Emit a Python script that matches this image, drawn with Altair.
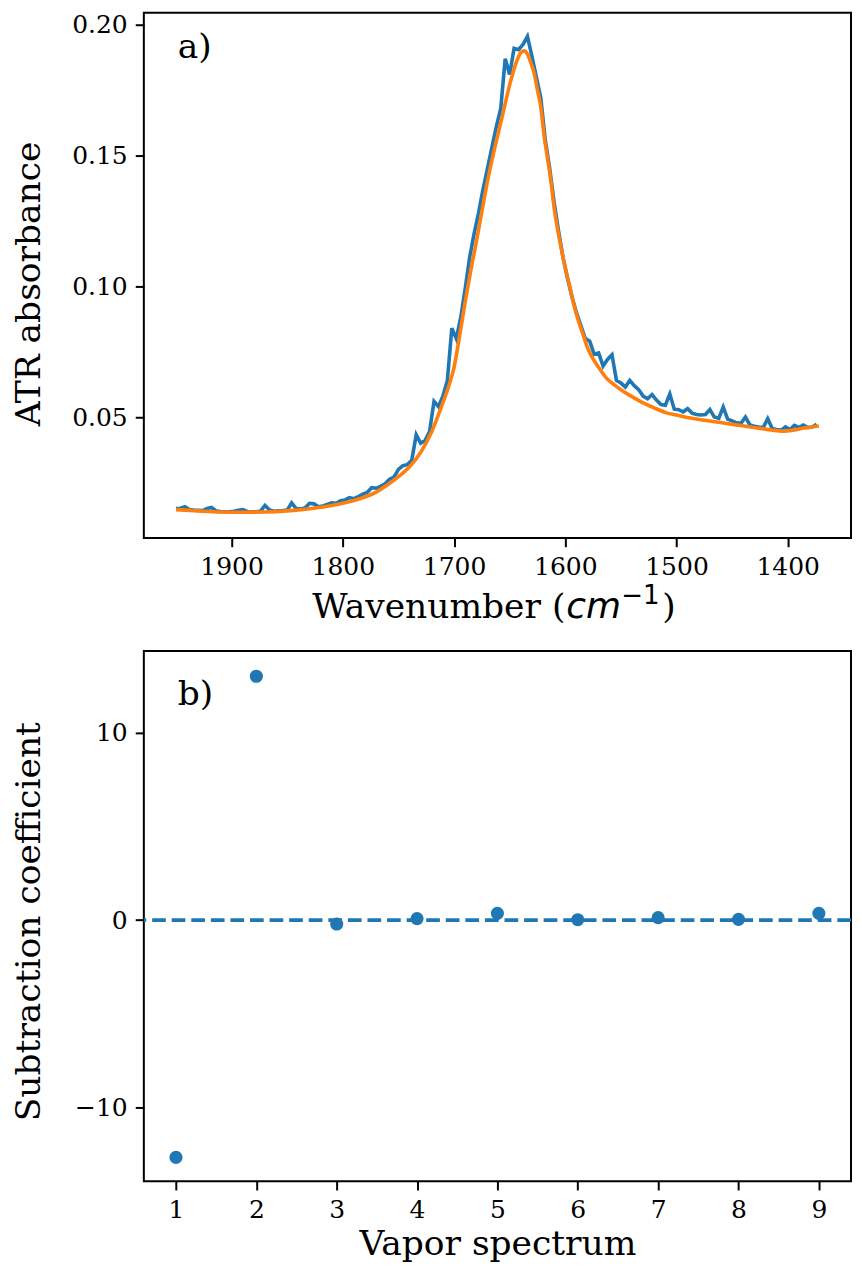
import altair as alt
import pandas as pd

# ---------------- data ----------------
# a) measured ATR spectrum (blue), sampled every 4 cm-1 from 1950 to 1374
wn_meas = list(range(1950, 1373, -4))
abs_meas = [
    0.0150, 0.0151, 0.0157, 0.0146, 0.0144, 0.0143, 0.0142, 0.0150, 0.0154, 0.0141,
    0.0139, 0.0138, 0.0138, 0.0140, 0.0143, 0.0146, 0.0139, 0.0138, 0.0138, 0.0140,
    0.0162, 0.0145, 0.0140, 0.0141, 0.0142, 0.0144, 0.0172, 0.0150, 0.0148, 0.0152,
    0.0170, 0.0168, 0.0157, 0.0160, 0.0166, 0.0172, 0.0170, 0.0180, 0.0183, 0.0192,
    0.0188, 0.0196, 0.0205, 0.0212, 0.0230, 0.0228, 0.0235, 0.0245, 0.0262, 0.0270,
    0.0300, 0.0314, 0.0318, 0.0335, 0.0432, 0.0400, 0.0410, 0.0445, 0.0560, 0.0540,
    0.0580, 0.0640, 0.0840, 0.0800, 0.0880, 0.0990, 0.1110, 0.1200, 0.1280, 0.1370,
    0.1450, 0.1530, 0.1610, 0.1680, 0.1870, 0.1810, 0.1910, 0.1905, 0.1925, 0.1955,
    0.1880, 0.1800, 0.1720, 0.1560, 0.1450, 0.1320, 0.1210, 0.1110, 0.1030, 0.0960,
    0.0900, 0.0850, 0.0800, 0.0790, 0.0740, 0.0745, 0.0695, 0.0720, 0.0738, 0.0640,
    0.0630, 0.0615, 0.0640, 0.0620, 0.0605, 0.0580, 0.0570, 0.0586, 0.0565, 0.0548,
    0.0545, 0.0588, 0.0530, 0.0528, 0.0520, 0.0532, 0.0515, 0.0510, 0.0508, 0.0510,
    0.0529, 0.0500, 0.0495, 0.0538, 0.0492, 0.0485, 0.0478, 0.0476, 0.0500, 0.0470,
    0.0465, 0.0462, 0.0460, 0.0494, 0.0456, 0.0452, 0.0450, 0.0462, 0.0452, 0.0468,
    0.0460, 0.0469, 0.0460, 0.0462, 0.0472,
]

# a) fitted spectrum (orange)
wn_fit = [1950, 1930, 1910, 1890, 1870, 1850, 1830, 1810, 1790, 1770, 1760, 1750,
          1740, 1730, 1720, 1710, 1705, 1700, 1695, 1690, 1685, 1680, 1675, 1670,
          1665, 1660, 1655, 1650, 1645, 1640, 1637, 1634, 1631, 1628, 1625, 1622,
          1619, 1616, 1613, 1610, 1605, 1601, 1596, 1592, 1588, 1584, 1580, 1575,
          1570, 1563, 1555, 1548, 1540, 1533, 1520, 1509, 1500, 1489, 1475, 1459,
          1445, 1429, 1415, 1405, 1395, 1385, 1372]
abs_fit = [0.0146, 0.0141, 0.0137, 0.0136, 0.0137, 0.0141, 0.0149, 0.0162, 0.0181,
           0.0213, 0.0240, 0.0272, 0.0310, 0.0365, 0.0445, 0.0555, 0.0615, 0.0690,
           0.0810, 0.0940, 0.1060, 0.1170, 0.1285, 0.1400, 0.1500, 0.1590, 0.1680,
           0.1770, 0.1845, 0.1893, 0.1900, 0.1888, 0.1855, 0.1815, 0.1750, 0.1685,
           0.1575, 0.1490, 0.1405, 0.1300, 0.1175, 0.1090, 0.1000, 0.0925, 0.0865,
           0.0815, 0.0765, 0.0722, 0.0690, 0.0649, 0.0620, 0.0599, 0.0578, 0.0561,
           0.0535, 0.0516, 0.0508, 0.0497, 0.0488, 0.0478, 0.0469, 0.0459, 0.0451,
           0.0446, 0.0450, 0.0458, 0.0466]

# b) subtraction coefficients
vapor_spectrum = [1, 2, 3, 4, 5, 6, 7, 8, 9]
sub_coef = [-12.68, 13.03, -0.21, 0.08, 0.36, 0.02, 0.13, 0.04, 0.36]

wn_ticks = [1900, 1800, 1700, 1600, 1500, 1400]
abs_ticks = [0.05, 0.10, 0.15, 0.20]
coef_ticks = [-10, 0, 10]

# ---------------- styling ----------------
FONT = "DejaVu Serif"
MATH_FONT = "DejaVu Sans"
BLUE = "#1f77b4"
ORANGE = "#ff7f0e"
W = 708
H_TOP = 526
H_BOT = 531
TITLE_SIZE = 34.5
TITLE_X = -104
XTITLE_BASE = H_TOP + 80   # baseline of the composed x title (relative to plot top)
CM_X = 422                 # left edge of the italic "cm" (relative to plot left)

meas_df = pd.DataFrame({"wn": wn_meas, "absorb": abs_meas})
fit_df = pd.DataFrame({"wn": wn_fit, "absorb": abs_fit})
coef_df = pd.DataFrame({"spec": vapor_spectrum, "coef": sub_coef})

x_top = alt.X(
    "wn:Q",
    scale=alt.Scale(domain=[1343.1, 1978.9], reverse=True, nice=False, zero=False),
    axis=alt.Axis(values=wn_ticks, format="d", title=None),
)
y_top = alt.Y(
    "absorb:Q",
    scale=alt.Scale(domain=[0.0037, 0.2046], nice=False, zero=False),
    axis=alt.Axis(values=abs_ticks, format=".2f", title="ATR absorbance",
                  titleX=TITLE_X, titleY=H_TOP / 2 + 8, titleBaseline="alphabetic"),
)

meas_line = alt.Chart(meas_df).mark_line(color=BLUE, strokeWidth=3.6).encode(x=x_top, y=y_top)
fit_line = alt.Chart(fit_df).mark_line(color=ORANGE, strokeWidth=3.6, interpolate="monotone").encode(
    x="wn:Q", y="absorb:Q")


def text_layer(txt, x, y, font=FONT, size=TITLE_SIZE, align="left", style="normal"):
    return alt.Chart(pd.DataFrame({"t": [txt]})).mark_text(
        font=font, fontSize=size, align=align, baseline="alphabetic", color="black",
        fontStyle=style,
    ).encode(x=alt.value(x), y=alt.value(y), text="t:N")


label_a = text_layer("a)", 34, 45)
xt_main = text_layer("Wavenumber (", CM_X, XTITLE_BASE, align="right")
xt_cm = text_layer("cm", CM_X + 1, XTITLE_BASE, font=MATH_FONT, size=36, style="italic")
xt_sup = text_layer("\u22121", CM_X + 56, XTITLE_BASE - 14, font=MATH_FONT, size=26)
xt_close = text_layer(")", CM_X + 97, XTITLE_BASE)

top = alt.layer(meas_line, fit_line, label_a, xt_main, xt_cm, xt_sup, xt_close).properties(
    width=W, height=H_TOP)

x_bot = alt.X(
    "spec:Q",
    scale=alt.Scale(domain=[0.6, 9.4], nice=False, zero=False),
    axis=alt.Axis(values=vapor_spectrum, format="d", title="Vapor spectrum",
                  titleY=73, titleBaseline="alphabetic"),
)
y_bot = alt.Y(
    "coef:Q",
    scale=alt.Scale(domain=[-13.96, 14.38], nice=False, zero=False),
    axis=alt.Axis(values=coef_ticks, format="d", title="Subtraction coefficient",
                  titleX=TITLE_X, titleY=H_BOT / 2 + 5, titleBaseline="alphabetic"),
)

zero_rule = alt.Chart(pd.DataFrame({"z": [0]})).mark_rule(
    color=BLUE, strokeWidth=3.6, strokeDash=[13.7, 5.9]
).encode(y="z:Q")
points = alt.Chart(coef_df).mark_circle(color=BLUE, size=172, opacity=1).encode(x=x_bot, y=y_bot)
label_b = text_layer("b)", 34, 54.5)

bottom = alt.layer(zero_rule, points, label_b).properties(width=W, height=H_BOT)

chart = alt.vconcat(top, bottom, spacing=24).properties(
    padding={"left": 2, "top": 3, "right": 0, "bottom": 0}
).configure_view(
    stroke="black", strokeWidth=2
).configure_axis(
    labelFont=FONT, labelFontSize=25, labelColor="black", labelPadding=8,
    titleFont=FONT, titleFontSize=TITLE_SIZE, titleFontWeight="normal", titleColor="black",
    tickColor="black", tickSize=8.6, tickWidth=2, domain=False, grid=False,
)

chart.save("out.html", embed_options={"renderer": "svg", "actions": False})
